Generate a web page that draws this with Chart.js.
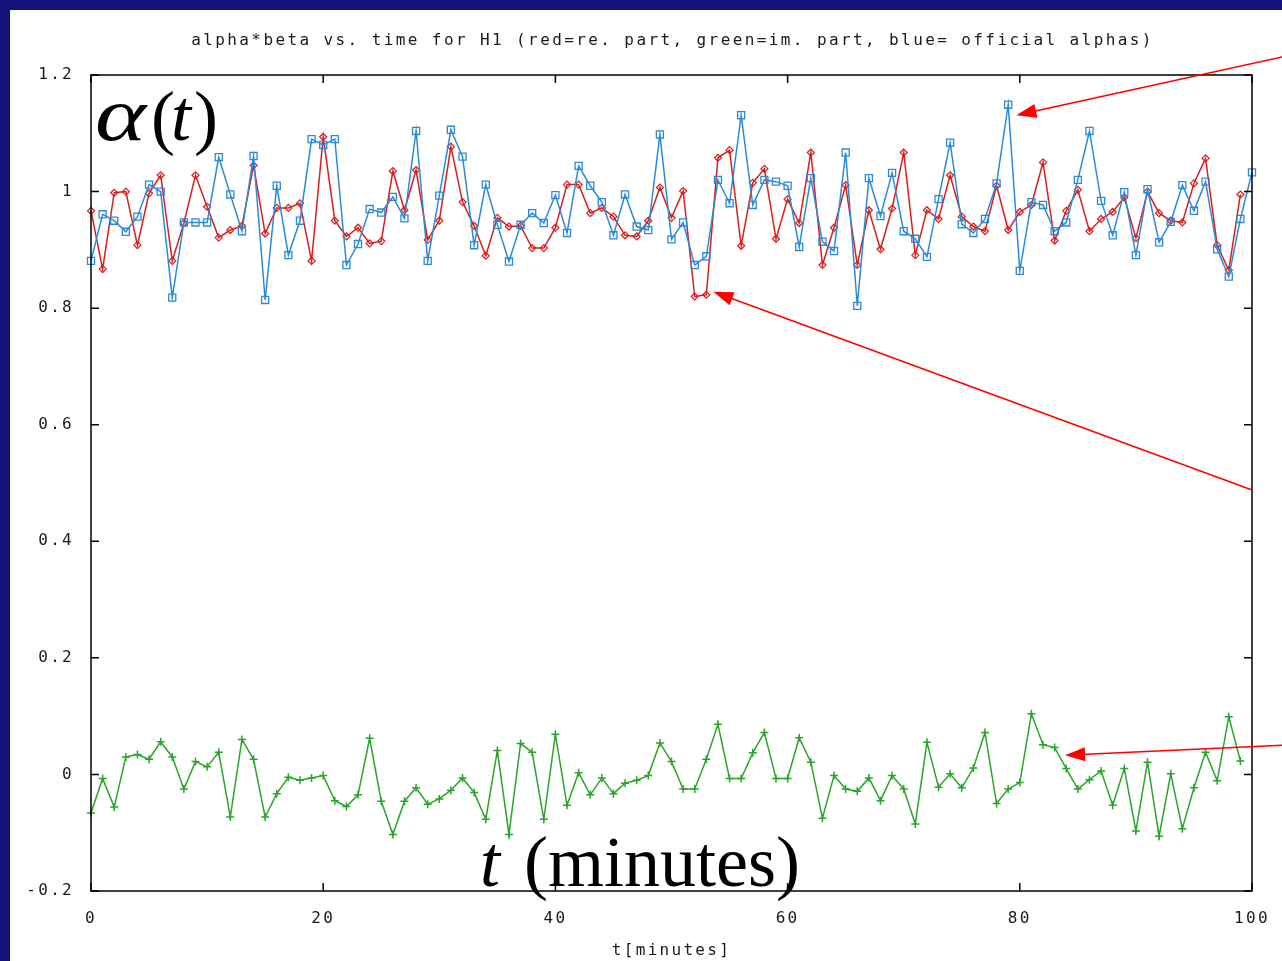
<!DOCTYPE html>
<html>
<head>
<meta charset="utf-8">
<script src="https://cdn.jsdelivr.net/npm/chart.js@4.4.1/dist/chart.umd.min.js"></script>
<style>
html, body { margin: 0; padding: 0; background: #12127a; }
#wrap { position: relative; width: 1282px; height: 961px; }
</style>
</head>
<body>
<div id="wrap"><canvas id="chart"></canvas></div>
<script>
// values, one per minute
const redRe = [
  0.967, 0.867, 0.998, 1.000, 0.908, 0.997, 1.028, 0.881, 0.946, 1.028,
  0.974, 0.921, 0.934, 0.941, 1.045, 0.928, 0.972, 0.972, 0.980, 0.881,
  1.094, 0.950, 0.923, 0.938, 0.911, 0.915, 1.035, 0.968, 1.037, 0.917,
  0.950, 1.077, 0.982, 0.941, 0.890, 0.955, 0.940, 0.941, 0.903, 0.903,
  0.938, 1.012, 1.012, 0.963, 0.972, 0.957, 0.925, 0.923, 0.950, 1.007,
  0.955, 1.001, 0.820, 0.823, 1.058, 1.071, 0.907, 1.015, 1.039, 0.919,
  0.987, 0.946, 1.067, 0.874, 0.938, 1.011, 0.874, 0.968, 0.901, 0.971,
  1.067, 0.891, 0.968, 0.953, 1.028, 0.957, 0.940, 0.932, 1.010, 0.934,
  0.965, 0.977, 1.050, 0.916, 0.967, 1.003, 0.932, 0.953, 0.965, 0.990,
  0.920, 1.000, 0.963, 0.950, 0.947, 1.014, 1.057, 0.908, 0.865, 0.995
];
const greenIm = [
  -0.066, -0.007, -0.056, 0.030, 0.034, 0.026, 0.056, 0.030, -0.025, 0.022,
  0.013, 0.038, -0.073, 0.060, 0.026, -0.073, -0.033, -0.005, -0.010, -0.006,
  -0.002, -0.045, -0.055, -0.035, 0.062, -0.046, -0.103, -0.046, -0.023, -0.051,
  -0.042, -0.027, -0.006, -0.031, -0.077, 0.041, -0.103, 0.053, 0.038, -0.077,
  0.069, -0.053, 0.003, -0.035, -0.006, -0.033, -0.015, -0.010, -0.002, 0.054,
  0.022, -0.025, -0.025, 0.026, 0.086, -0.007, -0.007, 0.037, 0.072, -0.007,
  -0.007, 0.063, 0.021, -0.075, -0.002, -0.025, -0.029, -0.006, -0.045, -0.002,
  -0.025, -0.085, 0.055, -0.022, 0.001, -0.023, 0.011, 0.072, -0.050, -0.025,
  -0.014, 0.104, 0.051, 0.046, 0.010, -0.025, -0.009, 0.006, -0.053, 0.010,
  -0.097, 0.021, -0.106, 0.001, -0.093, -0.023, 0.038, -0.011, 0.099, 0.023
];
const blueAlpha = [
  0.881, 0.961, 0.950, 0.931, 0.957, 1.012, 1.000, 0.818, 0.947, 0.947,
  0.947, 1.059, 0.995, 0.932, 1.061, 0.814, 1.010, 0.891, 0.950, 1.090,
  1.080, 1.090, 0.874, 0.910, 0.970, 0.964, 0.991, 0.954, 1.104, 0.881,
  0.993, 1.106, 1.060, 0.908, 1.012, 0.943, 0.880, 0.943, 0.963, 0.946,
  0.994, 0.929, 1.044, 1.010, 0.982, 0.925, 0.995, 0.940, 0.934, 1.098,
  0.918, 0.947, 0.874, 0.889, 1.020, 0.980, 1.131, 0.977, 1.020, 1.017,
  1.010, 0.905, 1.023, 0.914, 0.898, 1.067, 0.804, 1.023, 0.958, 1.032,
  0.932, 0.919, 0.888, 0.987, 1.084, 0.944, 0.929, 0.953, 1.014, 1.149,
  0.864, 0.982, 0.977, 0.932, 0.947, 1.020, 1.104, 0.984, 0.925, 0.999,
  0.891, 1.004, 0.913, 0.948, 1.011, 0.967, 1.017, 0.901, 0.854, 0.953,
  1.033
];
const plotTitle = "alpha*beta vs. time for H1 (red=re. part, green=im. part, blue= official alphas)";
const xTitle = "t[minutes]";

// red annotation arrows, [t, value] from -> to
const arrows = [
  [[102.6, 1.231], [79.7, 1.131]],
  [[100.0, 0.488], [53.6, 0.828]],
  [[102.6, 0.050], [83.9, 0.033]]
];

const mono = "'DejaVu Sans Mono', monospace";
const serif = "'Liberation Serif', serif";
const textColor = '#1a1a1a';
const toPts = arr => arr.map((v, i) => ({ x: i, y: v }));

function drawArrow(c, x1, y1, x2, y2) {
  const a = Math.atan2(y2 - y1, x2 - x1);
  const len = 20, half = 7;
  c.beginPath();
  c.moveTo(x1, y1);
  c.lineTo(x2 - Math.cos(a) * len * 0.8, y2 - Math.sin(a) * len * 0.8);
  c.stroke();
  c.beginPath();
  c.moveTo(x2, y2);
  c.lineTo(x2 - Math.cos(a) * len + Math.sin(a) * half, y2 - Math.sin(a) * len - Math.cos(a) * half);
  c.lineTo(x2 - Math.cos(a) * len - Math.sin(a) * half, y2 - Math.sin(a) * len + Math.cos(a) * half);
  c.closePath();
  c.fill();
}

const slide = {
  id: 'slide',
  beforeDraw(chart) {
    const c = chart.ctx;
    c.save();
    c.fillStyle = '#12127a';
    c.fillRect(0, 0, chart.width, chart.height);
    c.fillStyle = '#ffffff';
    c.fillRect(10, 10, chart.width - 10, chart.height - 10);
    c.restore();
    // gnuplot's wide fixed font
    c.letterSpacing = '2.3px';
  },
  afterDraw(chart) {
    const c = chart.ctx;
    const { left, right, top, bottom } = chart.chartArea;
    const xs = chart.scales.x, ys = chart.scales.y;
    c.save();
    // border + inward tics on all four sides
    c.strokeStyle = '#000';
    c.lineWidth = 1.5;
    c.strokeRect(left, top, right - left, bottom - top);
    c.beginPath();
    xs.ticks.forEach(t => {
      const px = xs.getPixelForValue(t.value);
      c.moveTo(px, bottom); c.lineTo(px, bottom - 8);
      c.moveTo(px, top); c.lineTo(px, top + 8);
    });
    ys.ticks.forEach(t => {
      const py = ys.getPixelForValue(t.value);
      c.moveTo(left, py); c.lineTo(left + 8, py);
      c.moveTo(right, py); c.lineTo(right - 8, py);
    });
    c.stroke();

    // plot title
    c.fillStyle = textColor;
    c.font = '16px ' + mono;
    c.letterSpacing = '2.4px';
    c.textAlign = 'center';
    c.textBaseline = 'middle';
    c.fillText(plotTitle, (left + right) / 2 + 1, 41);

    // slide text
    c.fillStyle = '#000';
    c.letterSpacing = '0px';
    c.textAlign = 'left';
    c.textBaseline = 'alphabetic';
    c.save();
    c.translate(95, 140);
    c.scale(1.35, 1.05);
    c.font = 'italic 72px ' + serif;
    c.fillText('\u03b1', 0, 0);
    c.restore();
    c.font = '72px ' + serif;
    c.fillText('(', 151, 141);
    c.font = 'italic 72px ' + serif;
    c.fillText('t', 171, 140);
    c.font = '72px ' + serif;
    c.fillText(')', 194, 141);

    c.font = 'italic 72px ' + serif;
    c.fillText('t', 480, 886);
    c.font = '72px ' + serif;
    c.fillText('(minutes)', 524, 886);

    // arrows
    c.strokeStyle = '#ff0000';
    c.fillStyle = '#ff0000';
    c.lineWidth = 1.6;
    arrows.forEach(([a, b]) => {
      drawArrow(c, xs.getPixelForValue(a[0]), ys.getPixelForValue(a[1]),
                   xs.getPixelForValue(b[0]), ys.getPixelForValue(b[1]));
    });
    c.restore();
  }
};

new Chart(document.getElementById('chart'), {
  type: 'line',
  data: {
    datasets: [
      {
        label: 're',
        data: toPts(redRe),
        borderColor: '#d81e1e',
        backgroundColor: 'transparent',
        borderWidth: 1.5,
        pointStyle: 'rectRot',
        pointRadius: 3.5,
        pointBorderWidth: 1.2,
        pointBorderColor: '#d81e1e',
        order: 2,
        clip: false
      },
      {
        label: 'im',
        data: toPts(greenIm),
        borderColor: '#2aa42a',
        backgroundColor: 'transparent',
        borderWidth: 1.5,
        pointStyle: 'cross',
        pointRadius: 4,
        pointBorderWidth: 1.5,
        pointBorderColor: '#2aa42a',
        order: 1,
        clip: false
      },
      {
        label: 'official',
        data: toPts(blueAlpha),
        borderColor: '#2b8ad8',
        backgroundColor: 'transparent',
        borderWidth: 1.5,
        pointStyle: 'rect',
        pointRadius: 5,
        pointBorderWidth: 1.3,
        pointBorderColor: '#2b8ad8',
        order: 0,
        clip: false
      }
    ]
  },
  options: {
    responsive: true,
    maintainAspectRatio: false,
    animation: false,
    layout: { padding: { left: 0, right: 30, top: 75, bottom: 0 } },
    plugins: {
      legend: { display: false },
      tooltip: { enabled: false },
      title: { display: false }
    },
    scales: {
      x: {
        type: 'linear',
        min: 0,
        max: 100,
        grid: { display: false },
        border: { display: false },
        ticks: {
          stepSize: 20,
          padding: 10,
          color: textColor,
          maxRotation: 0,
          font: { family: mono, size: 16 }
        },
        title: {
          display: true,
          text: xTitle,
          color: textColor,
          font: { family: mono, size: 16, lineHeight: 0.8 }
        },
        afterFit(scale) { scale.height = 70; }
      },
      y: {
        min: -0.2,
        max: 1.2,
        grid: { display: false },
        border: { display: false },
        ticks: {
          stepSize: 0.2,
          padding: 9,
          color: textColor,
          font: { family: mono, size: 16 },
          callback: v => String(parseFloat(v.toFixed(1)))
        },
        afterFit(scale) { scale.width = 91; }
      }
    }
  },
  plugins: [slide]
});
</script>
</body>
</html>
